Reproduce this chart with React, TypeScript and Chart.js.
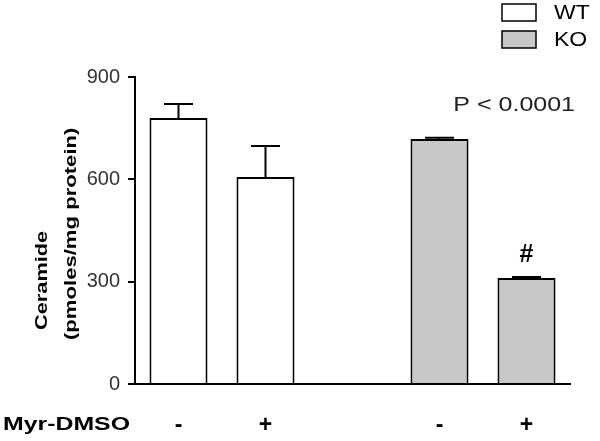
import React, { useEffect, useRef } from 'react';
import { Chart, registerables } from 'chart.js';

Chart.register(...registerables);

// ---- data ----
const categories = ['-', '+', '', '-', '+'];
const wtMeans = [780, 607, null, null, null];
const wtErrors = [41, 91, null, null, null];
const koMeans = [null, null, null, 718, 311];
const koErrors = [null, null, null, 4, 3];
const sigMarks = [null, null, null, null, '#'];
const yTicks = [0, 300, 600, 900];
const legendLabels = ['WT', 'KO'];
const xAxisLabel = 'Myr-DMSO';
const yTitleLines = ['Ceramide', '(pmoles/mg protein)'];
const pValueText = 'P < 0.0001';

const WT_COLOR = '#ffffff';
const KO_COLOR = '#c8c8c8';
const FONT = '"Liberation Sans", Arial, sans-serif';

function drawText(
  ctx: CanvasRenderingContext2D,
  text: string,
  x: number,
  y: number,
  font: string,
  color: string,
  align: CanvasTextAlign,
  sx = 1.3,
  rotate = 0
) {
  ctx.save();
  ctx.translate(x, y);
  if (rotate) ctx.rotate(rotate);
  ctx.scale(sx, 1);
  ctx.font = font;
  ctx.fillStyle = color;
  ctx.textAlign = align;
  ctx.textBaseline = 'middle';
  ctx.fillText(text, 0, 0);
  ctx.restore();
}

const annotationPlugin = {
  id: 'annotations',
  afterDatasetsDraw(chart: any) {
    const ctx: CanvasRenderingContext2D = chart.ctx;
    const yScale = chart.scales.y;
    const errorSets = [wtErrors, koErrors];
    const meanSets = [wtMeans, koMeans];
    ctx.save();
    ctx.strokeStyle = '#000';
    ctx.lineWidth = 2;
    errorSets.forEach((errs, di) => {
      const meta = chart.getDatasetMeta(di);
      errs.forEach((e, i) => {
        const m = meanSets[di][i];
        if (e == null || m == null) return;
        const bar = meta.data[i];
        const x = bar.x;
        const half = bar.width / 4;
        const yTop = yScale.getPixelForValue(m + e);
        const yBase = yScale.getPixelForValue(m);
        ctx.beginPath();
        ctx.moveTo(x, yBase);
        ctx.lineTo(x, yTop);
        ctx.moveTo(x - half, yTop);
        ctx.lineTo(x + half, yTop);
        ctx.stroke();
      });
    });
    // significance marks
    const koMeta = chart.getDatasetMeta(1);
    sigMarks.forEach((s, i) => {
      if (!s) return;
      const m = (koMeans[i] ?? wtMeans[i]) as number;
      const e = (koErrors[i] ?? wtErrors[i] ?? 0) as number;
      const bar = koMeans[i] != null ? koMeta.data[i] : chart.getDatasetMeta(0).data[i];
      const y = yScale.getPixelForValue(m + e) - 22;
      drawText(ctx, s, bar.x, y, `bold 25px ${FONT}`, '#000', 'center', 1.0);
    });
    ctx.restore();
  },
  afterDraw(chart: any) {
    const ctx: CanvasRenderingContext2D = chart.ctx;
    // y-axis title (rotated, two lines)
    drawText(ctx, yTitleLines[0], 42, 330, `bold 17px ${FONT}`, '#000', 'left', 1.28, -Math.PI / 2);
    drawText(ctx, yTitleLines[1], 71, 340, `bold 17px ${FONT}`, '#000', 'left', 1.3, -Math.PI / 2);
    // x-axis row label
    drawText(ctx, xAxisLabel, 3, 425, `bold 18px ${FONT}`, '#000', 'left', 1.38);
    // p-value
    drawText(ctx, pValueText, 575, 105, `20px ${FONT}`, '#222', 'right', 1.25);
    // legend
    const colors = [WT_COLOR, KO_COLOR];
    legendLabels.forEach((lab, i) => {
      const top = 4 + i * 27;
      ctx.save();
      ctx.fillStyle = colors[i];
      ctx.fillRect(502, top, 34, 17);
      ctx.strokeStyle = '#000';
      ctx.lineWidth = 1.5;
      ctx.strokeRect(502, top, 34, 17);
      ctx.restore();
      drawText(ctx, lab, 554, top + 9, `20px ${FONT}`, '#000', 'left', 1.15);
    });
  },
};

export default function App() {
  const canvasRef = useRef<HTMLCanvasElement | null>(null);

  useEffect(() => {
    if (!canvasRef.current) return;
    const chart = new Chart(canvasRef.current, {
      type: 'bar',
      data: {
        labels: categories,
        datasets: [
          {
            label: legendLabels[0],
            data: wtMeans,
            backgroundColor: WT_COLOR,
            borderColor: '#000',
            borderWidth: 2,
            borderSkipped: 'start',
            barPercentage: 0.667,
            categoryPercentage: 1,
            grouped: false,
          } as any,
          {
            label: legendLabels[1],
            data: koMeans,
            backgroundColor: KO_COLOR,
            borderColor: '#000',
            borderWidth: 2,
            borderSkipped: 'start',
            barPercentage: 0.667,
            categoryPercentage: 1,
            grouped: false,
          } as any,
        ],
      },
      options: {
        animation: false,
        responsive: true,
        maintainAspectRatio: false,
        devicePixelRatio: 1,
        layout: { padding: { left: 0, right: 30, top: 77, bottom: 0 } },
        plugins: {
          legend: { display: false },
          tooltip: { enabled: false },
          title: { display: false },
        },
        scales: {
          x: {
            offset: true,
            grid: { display: false, drawTicks: false },
            border: { display: true, color: '#000', width: 2 },
            ticks: {
              font: { family: FONT, size: 23, weight: 'bold' },
              color: '#000',
              padding: 28,
              maxRotation: 0,
              autoSkip: false,
            },
            afterFit: (s: any) => {
              s.height = 57;
            },
          },
          y: {
            min: 0,
            max: 900,
            afterBuildTicks: (s: any) => {
              s.ticks = yTicks.map((v) => ({ value: v }));
            },
            ticks: {
              font: { family: FONT, size: 20 },
              color: '#333',
              padding: 8,
            },
            grid: {
              display: true,
              drawOnChartArea: false,
              drawTicks: true,
              tickLength: 7,
              color: '#000',
              lineWidth: 2,
            },
            border: { display: true, color: '#000', width: 2 },
            afterFit: (s: any) => {
              s.width = 135;
            },
          },
        },
      },
      plugins: [annotationPlugin],
    });
    return () => chart.destroy();
  }, []);

  return (
    <div style={{ position: 'fixed', left: 0, top: 0, width: 600, height: 441, background: '#fff' }}>
      <canvas ref={canvasRef} />
    </div>
  );
}
